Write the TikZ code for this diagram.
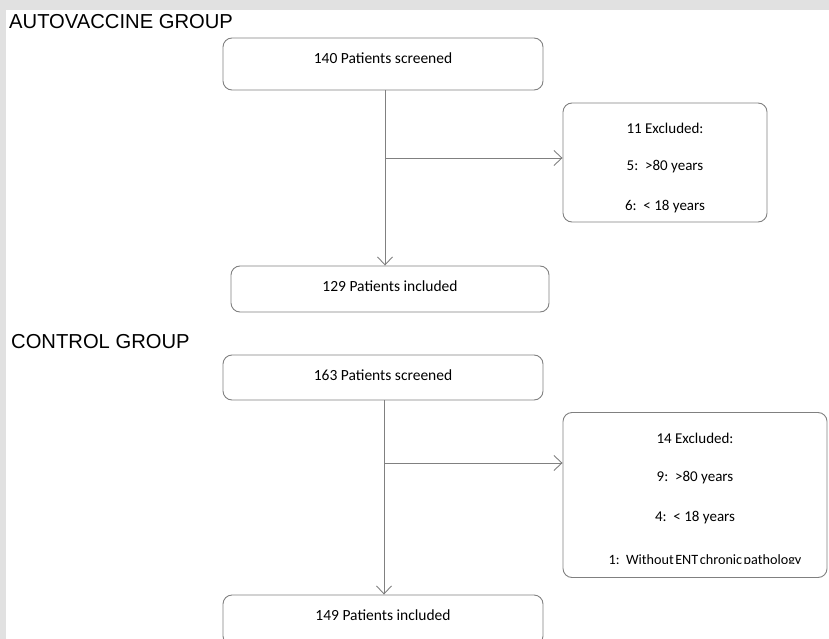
\documentclass[tikz,border=0pt]{standalone}
\usepackage{fontspec}
\setmainfont{Carlito}
\newfontfamily\headfont{Liberation Sans}
\usetikzlibrary{arrows.meta}
\definecolor{linegray}{HTML}{808080}
\definecolor{framegray}{HTML}{E1E1E1}
\newcommand{\ns}{\hspace{1.5pt}}
\tikzset{
  box/.style={draw=linegray, line width=0.9pt, rounded corners=9pt, inner sep=0pt},
  btext/.style={font=\fontsize{15}{18}\selectfont, inner sep=0pt, anchor=center},
  wtext/.style={font=\fontsize{15.5}{18}\selectfont, inner sep=0pt, anchor=center},
  head/.style={font=\headfont\fontsize{20.2}{22}\selectfont, inner sep=0pt, anchor=west},
  flow/.style={draw=linegray, line width=0.9pt, -{Straight Barb[length=8pt,width=15pt,line width=0.9pt]}}
}
\begin{document}
\begin{tikzpicture}[x=1pt,y=-1pt]
\useasboundingbox (0,0) rectangle (829,639);
\fill[framegray] (0,0) rectangle (829,10);
\fill[framegray] (0,0) rectangle (6,639);
\begin{scope}
\clip (6,10) rectangle (829,639);
% headings
\node[head] (h1) at (9,22) {AUTOVACCINE GROUP};
\node[head] (h2) at (11,342) {CONTROL GROUP};
% autovaccine group
\node[box, minimum width=320pt, minimum height=52pt] (b1) at (383,64) {};
\node[wtext] (t1) at (383,58) {140 Patients screened};
\node[box, minimum width=204pt, minimum height=119pt] (b2) at (665,162.5) {};
\node[btext] (t2a) at (665,128) {11 Excluded:};
\node[btext] (t2b) at (665,167) {5:\ \ >80 years};
\node[btext] (t2c) at (665,207) {6:\ \ < 18 years};
\node[box, minimum width=318pt, minimum height=46pt] (b3) at (390,289) {};
\node[wtext] (t3) at (390,286) {129 Patients included};
\coordinate (j1) at (385,158);
\draw[flow] (b1.south -| j1) -- (b3.north -| j1);
\draw[flow] (j1) -- (b2.west |- j1);
% control group
\node[box, minimum width=320pt, minimum height=45pt] (b4) at (383,377.5) {};
\node[wtext] (t4) at (383,375) {163 Patients screened};
\node[box, minimum width=264pt, minimum height=165pt] (b5) at (695,495) {};
\node[btext] (t5a) at (695,438) {14 Excluded:};
\node[btext] (t5b) at (695,478) {9:\ \ >80 years};
\node[btext] (t5c) at (695,518) {4:\ \ < 18 years};
\begin{scope}
\clip (563,540) rectangle (829,563);
\node[btext, font=\fontsize{14.2}{17}\selectfont, anchor=base] (t5d) at (705,564.5) {1:\ \ Without\ns ENT\ns chronic\ns pathology};
\end{scope}
\node[box, minimum width=320pt, minimum height=50pt] (b6) at (383,620) {};
\node[wtext] (t6) at (383,615) {149 Patients included};
\coordinate (j2) at (384,463);
\draw[flow] (b4.south -| j2) -- (b6.north -| j2);
\draw[flow] (j2) -- (b5.west |- j2);
\end{scope}
\end{tikzpicture}
\end{document}
